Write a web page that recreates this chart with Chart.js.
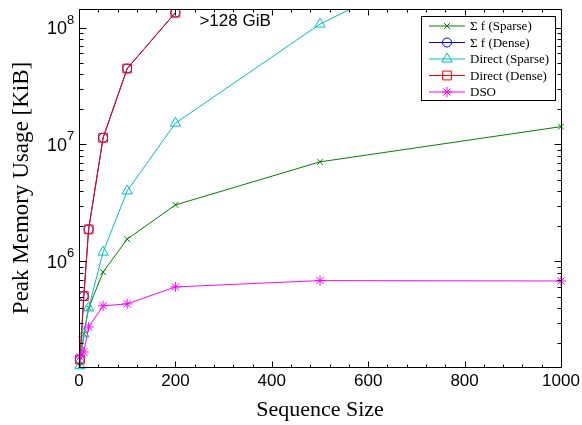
<!DOCTYPE html>
<html>
<head>
<meta charset="utf-8">
<script src="https://cdn.jsdelivr.net/npm/chart.js@4.4.0/dist/chart.umd.min.js"></script>
<style>
  html, body { margin: 0; padding: 0; background: #fff; }
  #wrap { width: 582px; height: 425px; }
</style>
</head>
<body>
<div id="wrap"><canvas id="myChart" width="582" height="425"></canvas></div>
<script>
// sequence sizes on the x axis
const sizes = [2, 10, 20, 50, 100, 200, 500, 1000];
// peak memory in KiB
const sumSparse = [1.27e5, 2.4e5, 4.0e5, 8.1e5, 1.55e6, 3.04e6, 7.1e6, 1.42e7];
const sumDense = [1.45e5, 5.05e5, 1.88e6, 1.14e7, 4.46e7, 1.34e8];
const directSparse = [1.28e5, 2.4e5, 4.0e5, 1.2e6, 4.0e6, 1.52e7, 1.07e8, 1.1e9];
const directDense = [1.45e5, 5.05e5, 1.88e6, 1.14e7, 4.46e7, 1.34e8];
const dso = [1.52e5, 1.68e5, 2.75e5, 4.17e5, 4.33e5, 6.05e5, 6.85e5, 6.8e5];

const labels = ['\u03A3 f (Sparse)', '\u03A3 f (Dense)', 'Direct (Sparse)', 'Direct (Dense)', 'DSO'];
const xTicks = [0, 200, 400, 600, 800, 1000];
const yExponents = [6, 7, 8];
const note = '>128 GiB';

const toPoints = vals => vals.map((v, i) => ({ x: sizes[i], y: v }));

function makeSet(label, vals, color, style, radius, order) {
  return {
    label: label,
    data: toPoints(vals),
    borderColor: color,
    backgroundColor: color,
    borderWidth: 1,
    pointStyle: style,
    pointRadius: radius,
    pointBorderColor: color,
    pointBackgroundColor: 'rgba(0,0,0,0)',
    pointBorderWidth: 1,
    tension: 0,
    order: order,
    clip: { left: 8, top: 0, right: 8, bottom: 8 }
  };
}

const datasets = [
  makeSet(labels[0], sumSparse, '#008000', 'crossRot', 4, 4),
  makeSet(labels[1], sumDense, '#0000ff', 'circle', 4.5, 3),
  makeSet(labels[2], directSparse, '#00bfbf', 'triangle', 6, 2),
  makeSet(labels[3], directDense, '#ff0000', 'rect', 6.2, 1),
  makeSet(labels[4], dso, '#ff00ff', 'star', 5, 0)
];

// box, inward ticks, tick labels, titles, note and legend
const decor = {
  id: 'decor',
  afterDraw(chart) {
    const ctx = chart.ctx;
    const a = chart.chartArea;
    const xs = chart.scales.x;
    const ys = chart.scales.y;
    ctx.save();
    ctx.strokeStyle = '#000';
    ctx.lineWidth = 1;
    const L = Math.round(a.left) + 0.5, R = Math.round(a.right) + 0.5;
    const T = Math.round(a.top) + 0.5, B = Math.round(a.bottom) + 0.5;
    ctx.strokeRect(L, T, R - L, B - T);

    ctx.beginPath();
    for (let v = 0; v <= 1000; v += 40) {
      const px = Math.round(xs.getPixelForValue(v)) + 0.5;
      const len = v % 200 === 0 ? 6 : 3;
      ctx.moveTo(px, B); ctx.lineTo(px, B - len);
      ctx.moveTo(px, T); ctx.lineTo(px, T + len);
    }
    for (let e = 5; e <= 8; e++) {
      for (let m = 1; m <= 9; m++) {
        const v = m * Math.pow(10, e);
        if (v < ys.min || v > ys.max) continue;
        const py = Math.round(ys.getPixelForValue(v)) + 0.5;
        const len = m === 1 ? 7 : 4;
        ctx.moveTo(L, py); ctx.lineTo(L + len, py);
        ctx.moveTo(R, py); ctx.lineTo(R - len, py);
      }
    }
    ctx.stroke();

    ctx.fillStyle = '#000';
    ctx.font = '17px "Liberation Sans", Arial, sans-serif';
    ctx.textAlign = 'center';
    ctx.textBaseline = 'middle';
    xTicks.forEach(t => ctx.fillText(String(t), xs.getPixelForValue(t), B + 14));

    yExponents.forEach(e => {
      const py = ys.getPixelForValue(Math.pow(10, e));
      ctx.font = '18px "Liberation Sans", Arial, sans-serif';
      ctx.textAlign = 'right';
      ctx.textBaseline = 'middle';
      ctx.fillText('10', a.left - 12, py + 2);
      ctx.font = '13px "Liberation Sans", Arial, sans-serif';
      ctx.textAlign = 'left';
      ctx.textBaseline = 'alphabetic';
      ctx.fillText(String(e), a.left - 12, py - 4);
    });

    ctx.font = '22px "Liberation Serif", "Times New Roman", serif';
    ctx.textAlign = 'center';
    ctx.textBaseline = 'alphabetic';
    ctx.fillText('Sequence Size', (a.left + a.right) / 2, 416);
    ctx.save();
    ctx.font = '23px "Liberation Serif", "Times New Roman", serif';
    ctx.translate(28, (a.top + a.bottom) / 2);
    ctx.rotate(-Math.PI / 2);
    ctx.fillText('Peak Memory Usage [KiB]', 0, 0);
    ctx.restore();

    // note beside the last dense point
    const nx = xs.getPixelForValue(sizes[5]);
    const ny = ys.getPixelForValue(directDense[5]);
    ctx.font = '17px "Liberation Sans", Arial, sans-serif';
    ctx.textAlign = 'left';
    ctx.textBaseline = 'middle';
    ctx.fillText(note, nx + 24, ny + 9);

    // legend
    const bx = 421.5, by = 16.5, bw = 134, bh = 84;
    ctx.fillStyle = '#fff';
    ctx.fillRect(bx, by, bw, bh);
    ctx.strokeStyle = '#000';
    ctx.strokeRect(bx, by, bw, bh);
    ctx.font = '13px "Liberation Serif", "Times New Roman", serif';
    datasets.forEach((ds, i) => {
      const ly = 26 + i * 16.5;
      ctx.strokeStyle = ds.borderColor;
      ctx.lineWidth = 1;
      ctx.beginPath();
      ctx.moveTo(429, ly); ctx.lineTo(465, ly);
      ctx.stroke();
      ctx.fillStyle = 'rgba(0,0,0,0)';
      Chart.helpers.drawPoint(ctx, {
        pointStyle: ds.pointStyle,
        radius: ds.pointRadius,
        rotation: 0,
        borderWidth: 1
      }, 447, ly);
      ctx.fillStyle = '#000';
      ctx.textAlign = 'left';
      ctx.textBaseline = 'middle';
      ctx.fillText(ds.label, 470, ly + 1);
    });
    ctx.restore();
  }
};

const ctx = document.getElementById('myChart').getContext('2d');
const chart = new Chart(ctx, {
  type: 'line',
  data: { datasets: datasets },
  options: {
    responsive: false,
    animation: false,
    layout: { padding: { left: 79, right: 21, top: 9, bottom: 58 } },
    plugins: { legend: { display: false }, tooltip: { enabled: false } },
    scales: {
      x: { type: 'linear', min: 0, max: 1000, display: false },
      y: { type: 'logarithmic', min: 1.25e5, max: 1.44e8, display: false }
    }
  },
  plugins: [decor]
});
</script>
</body>
</html>
